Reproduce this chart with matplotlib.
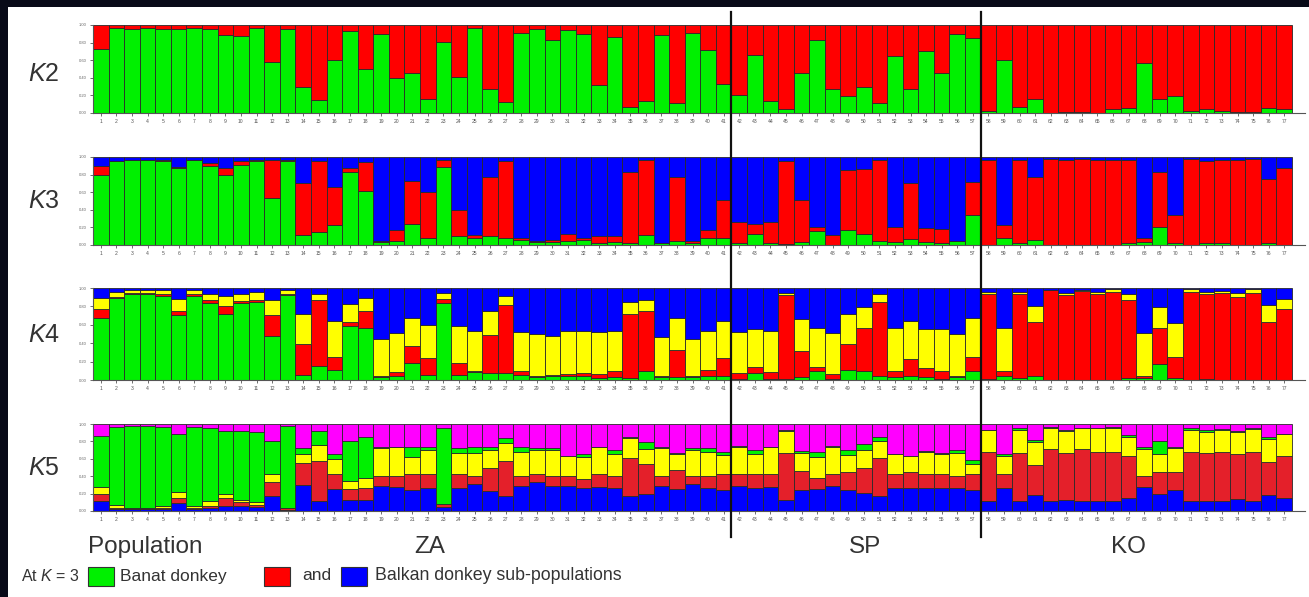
import numpy as np
import matplotlib
matplotlib.use('Agg')
import matplotlib.pyplot as plt
from matplotlib.patches import Rectangle
from matplotlib.lines import Line2D

plt.rcParams['font.family'] = ['Liberation Sans', 'DejaVu Sans']
plt.rcParams['mathtext.fontset'] = 'custom'
plt.rcParams['mathtext.rm'] = 'Liberation Sans'
plt.rcParams['mathtext.it'] = 'Liberation Sans:italic'

# ---------------- data ----------------
individuals = list(range(1, 78))
ytick_values = [0.0, 0.2, 0.4, 0.6, 0.8, 1.0]
ytick_labels = ['0.00', '0.20', '0.40', '0.60', '0.80', '1.00']
panel_labels = ['$K$2', '$K$3', '$K$4', '$K$5']
populations = ['ZA', 'SP', 'KO']
population_sizes = [41, 16, 20]
legend_labels = ['Banat donkey', 'and', 'Balkan donkey sub-populations']

# K = 2: share of the green cluster (rest red)
k2_green = [0.73, 0.97, 0.95, 0.97, 0.95, 0.95, 0.97, 0.95, 0.89, 0.88,
            0.97, 0.58, 0.95, 0.30, 0.15, 0.60, 0.93, 0.50, 0.90, 0.40,
            0.45, 0.16, 0.81, 0.41, 0.97, 0.27, 0.13, 0.91, 0.95, 0.83,
            0.94, 0.90, 0.32, 0.86, 0.07, 0.14, 0.89, 0.11, 0.91, 0.72,
            0.33, 0.20, 0.66, 0.14, 0.05, 0.46, 0.83, 0.27, 0.19, 0.29,
            0.11, 0.65, 0.27, 0.71, 0.45, 0.90, 0.85, 0.02, 0.60, 0.07,
            0.16, 0.00, 0.01, 0.01, 0.00, 0.04, 0.06, 0.57, 0.16, 0.19,
            0.02, 0.04, 0.02, 0.01, 0.01, 0.06, 0.04]

# K = 3: cumulative boundaries (green, green+red; rest blue)
k3_green = [0.79, 0.95, 0.97, 0.97, 0.95, 0.87, 0.97, 0.90, 0.79, 0.91,
            0.95, 0.53, 0.95, 0.11, 0.15, 0.23, 0.83, 0.61, 0.03, 0.04,
            0.24, 0.08, 0.89, 0.10, 0.08, 0.10, 0.08, 0.06, 0.03, 0.03,
            0.04, 0.06, 0.02, 0.03, 0.02, 0.11, 0.02, 0.04, 0.02, 0.08,
            0.08, 0.02, 0.12, 0.02, 0.01, 0.03, 0.16, 0.00, 0.17, 0.12,
            0.05, 0.03, 0.07, 0.03, 0.02, 0.04, 0.34, 0.00, 0.08, 0.02,
            0.06, 0.00, 0.00, 0.00, 0.00, 0.00, 0.02, 0.03, 0.20, 0.02,
            0.00, 0.02, 0.02, 0.00, 0.00, 0.02, 0.00]
k3_green_red = [0.90, 0.96, 0.97, 0.97, 0.97, 0.89, 0.97, 0.93, 0.88, 0.95,
                0.97, 0.97, 0.97, 0.71, 0.95, 0.66, 0.88, 0.94, 0.05, 0.17,
                0.73, 0.60, 0.97, 0.40, 0.11, 0.77, 0.95, 0.08, 0.05, 0.06,
                0.13, 0.08, 0.10, 0.10, 0.83, 0.97, 0.02, 0.77, 0.04, 0.17,
                0.51, 0.26, 0.24, 0.26, 0.95, 0.51, 0.21, 0.11, 0.85, 0.86,
                0.97, 0.21, 0.70, 0.19, 0.18, 0.05, 0.72, 0.97, 0.23, 0.97,
                0.77, 0.98, 0.97, 0.98, 0.97, 0.97, 0.97, 0.08, 0.83, 0.34,
                0.98, 0.95, 0.97, 0.97, 0.98, 0.75, 0.87]

# K = 4: cumulative boundaries (green, +red, +yellow; rest blue)
k4_green = [0.67, 0.89, 0.93, 0.93, 0.91, 0.71, 0.91, 0.84, 0.72, 0.84,
            0.85, 0.48, 0.92, 0.05, 0.15, 0.11, 0.59, 0.57, 0.03, 0.04,
            0.18, 0.05, 0.84, 0.05, 0.09, 0.08, 0.08, 0.05, 0.03, 0.04,
            0.04, 0.04, 0.02, 0.03, 0.02, 0.10, 0.03, 0.03, 0.03, 0.04,
            0.04, 0.01, 0.08, 0.01, 0.01, 0.03, 0.10, 0.01, 0.11, 0.10,
            0.04, 0.03, 0.04, 0.03, 0.01, 0.03, 0.10, 0.01, 0.04, 0.02,
            0.04, 0.00, 0.00, 0.00, 0.00, 0.00, 0.02, 0.02, 0.17, 0.02,
            0.00, 0.01, 0.00, 0.00, 0.00, 0.00, 0.00]
k4_green_red = [0.77, 0.90, 0.95, 0.95, 0.93, 0.75, 0.93, 0.87, 0.80, 0.86,
                0.87, 0.71, 0.93, 0.39, 0.87, 0.25, 0.63, 0.75, 0.04, 0.09,
                0.37, 0.24, 0.88, 0.19, 0.10, 0.49, 0.82, 0.10, 0.04, 0.05,
                0.07, 0.08, 0.07, 0.10, 0.72, 0.75, 0.04, 0.33, 0.04, 0.11,
                0.24, 0.08, 0.14, 0.09, 0.92, 0.32, 0.14, 0.06, 0.39, 0.57,
                0.85, 0.10, 0.23, 0.13, 0.10, 0.04, 0.25, 0.93, 0.10, 0.93,
                0.63, 0.98, 0.92, 0.97, 0.93, 0.96, 0.87, 0.04, 0.57, 0.25,
                0.96, 0.93, 0.95, 0.90, 0.95, 0.63, 0.77]
k4_green_red_yellow = [0.89, 0.96, 0.98, 0.98, 0.98, 0.88, 0.98, 0.94, 0.91, 0.94,
                       0.96, 0.87, 0.98, 0.72, 0.93, 0.64, 0.83, 0.89, 0.45, 0.51,
                       0.67, 0.60, 0.95, 0.59, 0.53, 0.75, 0.91, 0.52, 0.50, 0.48,
                       0.53, 0.53, 0.52, 0.53, 0.85, 0.87, 0.47, 0.67, 0.45, 0.53,
                       0.64, 0.52, 0.55, 0.53, 0.95, 0.66, 0.57, 0.51, 0.72, 0.79,
                       0.93, 0.56, 0.64, 0.55, 0.55, 0.50, 0.67, 0.96, 0.56, 0.96,
                       0.80, 0.98, 0.95, 0.98, 0.96, 0.99, 0.93, 0.51, 0.79, 0.62,
                       0.99, 0.96, 0.97, 0.95, 0.99, 0.81, 0.88]

# K = 5: cumulative boundaries (blue, +red, +yellow, +green; rest magenta)
k5_blue = [0.12, 0.02, 0.02, 0.02, 0.02, 0.09, 0.02, 0.03, 0.06, 0.06,
           0.05, 0.17, 0.01, 0.30, 0.12, 0.25, 0.13, 0.13, 0.29, 0.28,
           0.24, 0.27, 0.05, 0.27, 0.31, 0.23, 0.17, 0.29, 0.33, 0.29,
           0.29, 0.26, 0.28, 0.27, 0.17, 0.20, 0.29, 0.25, 0.31, 0.27,
           0.24, 0.29, 0.27, 0.28, 0.13, 0.24, 0.25, 0.29, 0.24, 0.21,
           0.17, 0.27, 0.27, 0.27, 0.27, 0.27, 0.24, 0.12, 0.27, 0.12,
           0.18, 0.11, 0.13, 0.11, 0.12, 0.11, 0.15, 0.28, 0.20, 0.24,
           0.11, 0.12, 0.12, 0.14, 0.11, 0.18, 0.15]
k5_blue_red = [0.20, 0.04, 0.03, 0.03, 0.04, 0.15, 0.04, 0.06, 0.15, 0.10,
               0.07, 0.33, 0.03, 0.55, 0.58, 0.42, 0.25, 0.27, 0.40, 0.40,
               0.42, 0.43, 0.08, 0.43, 0.40, 0.50, 0.58, 0.40, 0.43, 0.40,
               0.40, 0.37, 0.42, 0.40, 0.61, 0.54, 0.40, 0.47, 0.40, 0.40,
               0.43, 0.42, 0.42, 0.42, 0.67, 0.46, 0.38, 0.42, 0.45, 0.50,
               0.61, 0.42, 0.45, 0.42, 0.42, 0.40, 0.42, 0.68, 0.42, 0.67,
               0.53, 0.71, 0.67, 0.71, 0.68, 0.68, 0.63, 0.40, 0.45, 0.45,
               0.68, 0.67, 0.68, 0.65, 0.68, 0.56, 0.63]
k5_blue_red_yellow = [0.28, 0.07, 0.04, 0.03, 0.06, 0.22, 0.06, 0.12, 0.20, 0.13,
                      0.10, 0.42, 0.04, 0.66, 0.76, 0.60, 0.35, 0.38, 0.72, 0.73,
                      0.62, 0.70, 0.08, 0.67, 0.67, 0.70, 0.78, 0.68, 0.70, 0.70,
                      0.63, 0.62, 0.73, 0.65, 0.84, 0.71, 0.72, 0.65, 0.70, 0.68,
                      0.64, 0.74, 0.65, 0.73, 0.92, 0.67, 0.62, 0.74, 0.64, 0.70,
                      0.80, 0.65, 0.63, 0.68, 0.65, 0.67, 0.54, 0.93, 0.63, 0.93,
                      0.79, 0.95, 0.92, 0.95, 0.95, 0.95, 0.85, 0.71, 0.65, 0.72,
                      0.93, 0.91, 0.93, 0.91, 0.94, 0.83, 0.88]
k5_blue_red_yellow_green = [0.86, 0.97, 0.98, 0.98, 0.97, 0.89, 0.97, 0.95, 0.92, 0.92,
                            0.91, 0.80, 0.98, 0.72, 0.92, 0.65, 0.81, 0.85, 0.73, 0.74,
                            0.74, 0.74, 0.95, 0.72, 0.73, 0.74, 0.84, 0.73, 0.72, 0.72,
                            0.63, 0.66, 0.73, 0.70, 0.85, 0.79, 0.73, 0.67, 0.72, 0.72,
                            0.68, 0.75, 0.70, 0.74, 0.93, 0.69, 0.68, 0.75, 0.70, 0.77,
                            0.85, 0.65, 0.63, 0.69, 0.67, 0.70, 0.59, 0.93, 0.65, 0.95,
                            0.82, 0.96, 0.93, 0.95, 0.95, 0.96, 0.87, 0.73, 0.80, 0.74,
                            0.95, 0.93, 0.94, 0.92, 0.95, 0.85, 0.89]

# ---------------- styling ----------------
GREEN = '#00f000'
RED = '#ff0000'
RED5 = '#e4202a'
BLUE = '#0000ff'
YELLOW = '#ffff00'
MAGENTA = '#ff00ff'
TXT = '#333333'

panels = [
    ([k2_green], [GREEN, RED]),
    ([k3_green, k3_green_red], [GREEN, RED, BLUE]),
    ([k4_green, k4_green_red, k4_green_red_yellow], [GREEN, RED, YELLOW, BLUE]),
    ([k5_blue, k5_blue_red, k5_blue_red_yellow, k5_blue_red_yellow_green],
     [BLUE, RED5, YELLOW, GREEN, MAGENTA]),
]

W, H = 1309, 597
fig = plt.figure(figsize=(W / 100, H / 100), dpi=100)
fig.patch.set_facecolor('white')

# dark frame strips of the screenshot
fig.patches.append(Rectangle((0, 1 - 7 / H), 1, 7 / H, transform=fig.transFigure,
                             facecolor='#080a18', edgecolor='none', zorder=0))
fig.patches.append(Rectangle((0, 0), 8 / W, 1, transform=fig.transFigure,
                             facecolor='#080a18', edgecolor='none', zorder=0))

# axes positions in pixels (top, bottom)
panel_px = [(25, 113), (157, 245), (288, 380), (424, 511)]
label_y = [74, 201, 335, 468]
x_left, x_right = 93, 1305
bar_w_px = (1292 - 93) / 77.0
n = len(individuals)
x = np.arange(n)

axes = []
for (bounds, colors), (top, bot), ly, lab in zip(panels, panel_px, label_y, panel_labels):
    ax = fig.add_axes([x_left / W, 1 - bot / H, (x_right - x_left) / W, (bot - top) / H])
    cum = np.vstack([np.zeros(n)] + [np.array(b) for b in bounds] + [np.ones(n)])
    for i, c in enumerate(colors):
        ax.bar(x, cum[i + 1] - cum[i], bottom=cum[i], width=1.0, color=c,
               edgecolor='#2a2a2a', linewidth=0.6, align='center')
    ax.set_xlim(-0.5, -0.5 + (x_right - x_left) / bar_w_px)
    ax.set_ylim(0, 1.0)
    for s in ['top', 'right']:
        ax.spines[s].set_visible(False)
    for s in ['left', 'bottom']:
        ax.spines[s].set_color('#555555')
        ax.spines[s].set_linewidth(0.8)
    ax.set_xticks(x)
    ax.set_xticklabels([str(v) for v in individuals], fontsize=3.6, color='#555555')
    ax.set_yticks(ytick_values)
    ax.set_yticklabels(ytick_labels, fontsize=3.0, color='#666666')
    ax.tick_params(axis='x', length=2.5, width=0.6, pad=2, color='#555555')
    ax.tick_params(axis='y', length=2.5, width=0.6, pad=2, color='#555555')
    ax.set_facecolor('white')
    fig.text(44 / W, 1 - ly / H, lab, fontsize=18, color=TXT, ha='center', va='center')
    axes.append(ax)

# population dividers
edges = np.cumsum(population_sizes)[:-1]
for e in edges:
    xd = axes[0].transData.transform((e - 0.5, 0))[0]
    xf = fig.transFigure.inverted().transform((xd, 0))[0]
    fig.add_artist(Line2D([xf, xf], [1 - 12 / H, 1 - 537 / H], transform=fig.transFigure,
                          color='#111111', linewidth=1.6, zorder=10))

# population names
fig.text(145 / W, 1 - 547 / H, 'Population', fontsize=17.5, color=TXT, ha='center', va='center')
pop_centers_px = [430, 865, 1128]
for name, cx in zip(populations, pop_centers_px):
    fig.text(cx / W, 1 - 547 / H, name, fontsize=17.5, color=TXT, ha='center', va='center')

# legend line
ly_leg = 1 - 576 / H
fig.text(21 / W, ly_leg, 'At $K$ = 3', fontsize=11.5, color=TXT, ha='left', va='center')
sq_h = 19
for x0, col in [(88, GREEN), (264, RED), (341, BLUE)]:
    fig.patches.append(Rectangle((x0 / W, 1 - 586 / H), 26 / W, sq_h / H,
                                 transform=fig.transFigure, facecolor=col,
                                 edgecolor='#333333', linewidth=0.8))
fig.text(120 / W, ly_leg, legend_labels[0], fontsize=12.5, color=TXT, ha='left', va='center')
fig.text(302 / W, ly_leg, legend_labels[1], fontsize=12.5, color=TXT, ha='left', va='center')
fig.text(375 / W, ly_leg, legend_labels[2], fontsize=12.8, color=TXT, ha='left', va='center')

fig.savefig('out.png', dpi=100, facecolor=fig.get_facecolor())
